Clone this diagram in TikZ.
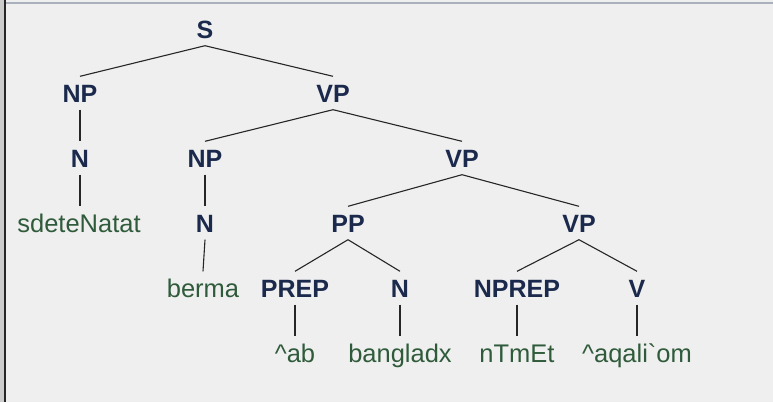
\documentclass[tikz,border=0pt]{standalone}
\usepackage{fontspec}
\setmainfont{Liberation Sans}
\usepackage{tikz}
\definecolor{catblue}{HTML}{1B2A4C}
\definecolor{leafgreen}{HTML}{2F5B3B}
\definecolor{panel}{HTML}{EFEFEF}
\definecolor{rim}{HTML}{A9B2BC}

\begin{document}
\begin{tikzpicture}[
  x=1pt,y=-1pt,
  tag/.style={anchor=base,inner xsep=2pt,inner ysep=7.5pt,text height=18pt,text depth=0pt},
  cat/.style={tag,font=\fontsize{25}{29}\selectfont\bfseries,text=catblue},
  leaf/.style={tag,font=\fontsize{25.5}{30}\selectfont,text=leafgreen},
  edge/.style={line width=1.1pt,black!85}
]
  % window panel
  \useasboundingbox (0,0) rectangle (773,402);
  \fill[panel] (0,0) rectangle (773,402);
  \fill[gray!40] (0,0) rectangle (4,402);
  \draw[line width=2pt,black!85] (5,0) -- (5,402);
  \draw[line width=1.5pt,rim] (6,3) -- (773,3);

  % categories
  \node[cat] (s) at (205,38) {S};
  \node[cat] (np) at (80,102) {NP};
  \node[cat] (vp) at (333,102) {VP};
  \node[cat] (n) at (80,167) {N};
  \node[cat] (objnp) at (205,167) {NP};
  \node[cat] (vpb) at (462,167) {VP};
  \node[cat] (objn) at (205,232) {N};
  \node[cat] (pp) at (348,232) {PP};
  \node[cat] (vpc) at (579,232) {VP};
  \node[cat] (prep) at (295,297) {PREP};
  \node[cat] (ppn) at (400,297) {N};
  \node[cat] (nprep) at (517,297) {NPREP};
  \node[cat] (verb) at (637,297) {V};

  % words
  \node[leaf] (sdete) at (79,232) {sdeteNatat};
  \node[leaf] (berma) at (203,297) {berma};
  \node[leaf] (ab) at (295,362) {\textasciicircum ab};
  \node[leaf] (bangla) at (400,362) {bangladx};
  \node[leaf] (ntmet) at (517,362) {nTmEt};
  \node[leaf] (aqali) at (637,362) {\textasciicircum aqali\textasciigrave om};

  \draw[edge] (s.south) -- (np.north);
  \draw[edge] (s.south) -- (vp.north);
  \draw[edge] (np.south) -- (n.north);
  \draw[edge] (n.south) -- (n.south |- sdete.north);
  \draw[edge] (vp.south) -- (objnp.north);
  \draw[edge] (vp.south) -- (vpb.north);
  \draw[edge] (objnp.south) -- (objn.north);
  \draw[edge] (objn.south) -- (berma.north);
  \draw[edge] (vpb.south) -- (pp.north);
  \draw[edge] (vpb.south) -- (vpc.north);
  \draw[edge] (pp.south) -- (prep.north);
  \draw[edge] (pp.south) -- (ppn.north);
  \draw[edge] (vpc.south) -- (nprep.north);
  \draw[edge] (vpc.south) -- (verb.north);
  \draw[edge] (prep.south) -- (ab.north);
  \draw[edge] (ppn.south) -- (bangla.north);
  \draw[edge] (nprep.south) -- (ntmet.north);
  \draw[edge] (verb.south) -- (aqali.north);
\end{tikzpicture}
\end{document}
